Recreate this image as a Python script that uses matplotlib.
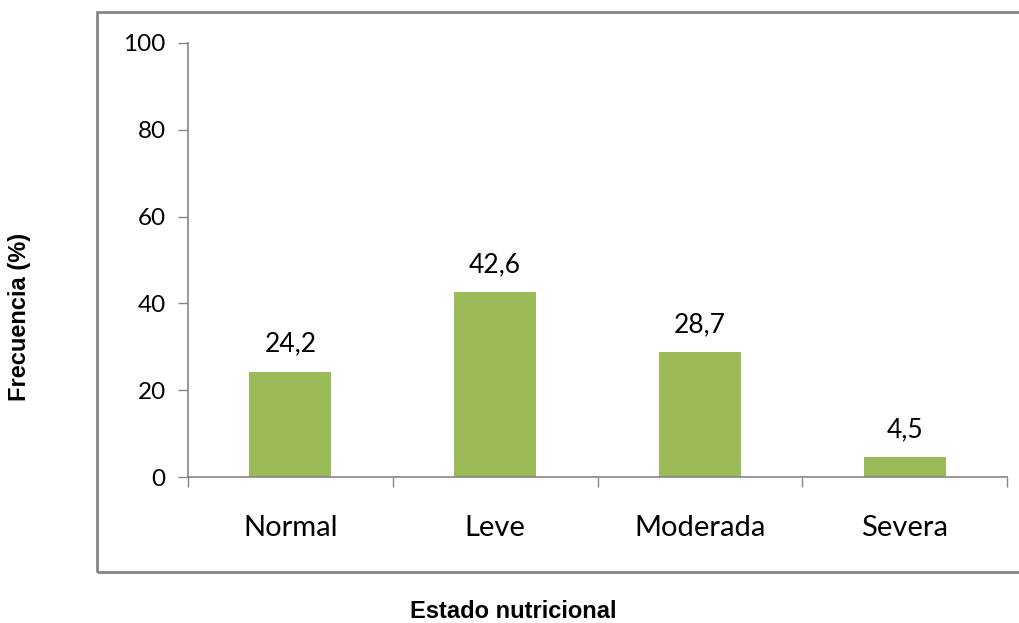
import numpy as np
import matplotlib.pyplot as plt
from matplotlib.patches import Rectangle

categorias = ['Normal', 'Leve', 'Moderada', 'Severa']
frecuencia = [24.2, 42.6, 28.7, 4.5]
etiquetas = ['24,2', '42,6', '28,7', '4,5']
yticks = [0, 20, 40, 60, 80, 100]

fig = plt.figure(figsize=(10.2, 6.23), dpi=100)
ax = fig.add_axes([0.1843, 0.2343, 0.8030, 0.6967])

x = np.arange(len(categorias))
ax.bar(x, frecuencia, width=0.4, color='#9BBB59')
for xi, v, t in zip(x, frecuencia, etiquetas):
    ax.text(xi, v + 3.5, t, ha='center', va='bottom', fontsize=19, family='Lato')

ax.set_xlim(-0.5, len(categorias) - 0.5)
ax.set_ylim(0, 100)
ax.set_yticks(yticks)
ax.set_xticks(x)
ax.set_xticklabels(categorias, fontsize=21, family='Lato')
ax.set_xticks(np.arange(len(categorias) + 1) - 0.5, minor=True)
ax.tick_params(axis='x', which='major', length=0, pad=27)
ax.tick_params(axis='x', which='minor', length=7, color='#868686', width=1)
ax.tick_params(axis='y', length=7, color='#868686', width=1, labelsize=17.5, pad=9)
for lab in ax.get_yticklabels():
    lab.set_family('Lato')

for s in ['top', 'right']:
    ax.spines[s].set_visible(False)
for s in ['left', 'bottom']:
    ax.spines[s].set_color('#868686')
    ax.spines[s].set_linewidth(1.2)

# marco del grafico
fig.patches.append(Rectangle((97 / 1020, (623 - 572) / 623), 1.0, (572 - 12) / 623,
                             transform=fig.transFigure, fill=False,
                             edgecolor='#868686', linewidth=2))

fig.text(20 / 1020, 0.492, 'Frecuencia (%)', rotation=90, ha='center', va='center',
         fontsize=17, fontweight='bold', family='Liberation Sans')
fig.text(513 / 1020, 1 - 612 / 623, 'Estado nutricional', ha='center', va='center',
         fontsize=17, fontweight='bold', family='Liberation Sans')

fig.savefig('out.png', dpi=100)
